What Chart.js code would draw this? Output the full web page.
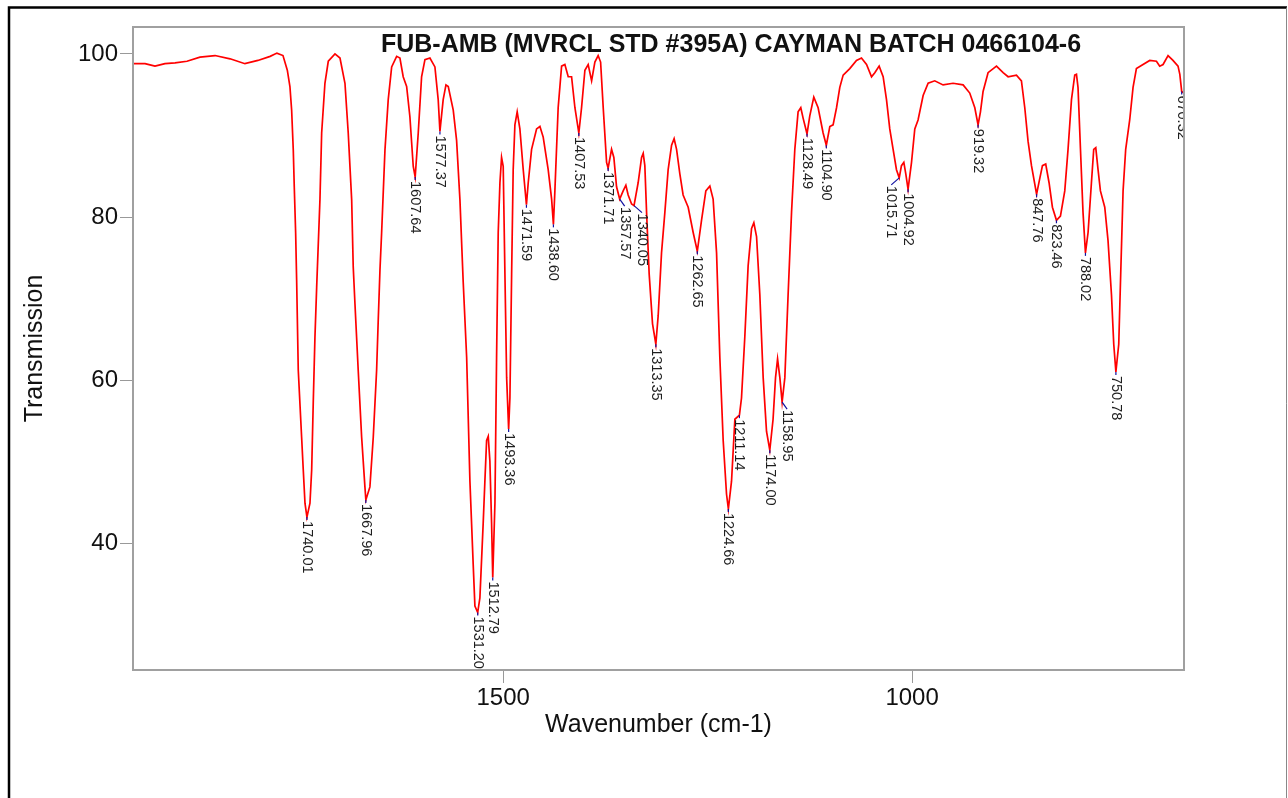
<!DOCTYPE html>
<html>
<head>
<meta charset="utf-8">
<script src="https://cdn.jsdelivr.net/npm/chart.js@4.4.1/dist/chart.umd.min.js"></script>
<style>
  body { margin: 0; background: #fff; }
  #wrap { width: 1288px; height: 798px; position: relative; }
</style>
</head>
<body>
<div id="wrap"><canvas id="myChart" width="1288" height="798"></canvas></div>
<script>
// IR spectrum, wavenumber (cm-1) vs % transmission
const wavenumbers = [
  1952.7, 1938, 1925.8, 1913.6, 1901.3, 1886.7, 1870.8, 1852.4, 1834, 1815.8,
  1800, 1785, 1776.7, 1769.3, 1764, 1760.8, 1758.7, 1756.7, 1755.5, 1753.8,
  1752.6, 1750.6, 1746.5, 1744.5, 1742.4, 1740.01, 1736.3, 1734.2, 1732.3, 1730.2,
  1728.1, 1724.1, 1722, 1718, 1713.9, 1705.7, 1699.6, 1693.5, 1689.5, 1685.3,
  1683.4, 1681.3, 1677.3, 1673.1, 1669.1, 1667.96, 1663, 1658.9, 1654.8, 1652.8,
  1650.7, 1648.7, 1644.6, 1640.6, 1636.4, 1630.3, 1626.3, 1622.3, 1618.1, 1614.1,
  1610, 1607.64, 1603.9, 1599.8, 1595.7, 1589.6, 1583.5, 1579.5, 1577.37, 1573.4,
  1570, 1567.2, 1561.1, 1557, 1552.9, 1550.5, 1548.9, 1544.7, 1540.7, 1536.7,
  1534.6, 1531.20, 1528.5, 1524.5, 1522.4, 1520.3, 1518.3, 1516.3, 1514.2, 1512.79,
  1510.1, 1508.1, 1506.1, 1504, 1502, 1500, 1497.9, 1495.8, 1493.36, 1491.8,
  1489.7, 1487.8, 1485.7, 1482.9, 1479.6, 1475.5, 1471.59, 1469.4, 1465.3, 1459.2,
  1455.1, 1451.1, 1445, 1440.8, 1438.60, 1436.8, 1432.8, 1428.6, 1424.6, 1420.5,
  1416.4, 1412.3, 1407.53, 1404.2, 1400.1, 1396.1, 1391.9, 1387.9, 1383.9, 1380.9,
  1377.7, 1373.6, 1371.71, 1367.5, 1364.7, 1361.4, 1357.57, 1353.3, 1350, 1347.2,
  1343, 1340.05, 1335, 1330.8, 1328.8, 1326.8, 1324.7, 1321.5, 1317.4, 1313.35,
  1310.5, 1306.4, 1302.3, 1298.3, 1294.1, 1291, 1288, 1284, 1280, 1273.8,
  1267.7, 1262.65, 1257.5, 1252.2, 1247.3, 1243.3, 1239.1, 1235.1, 1231, 1226.9,
  1224.66, 1220.8, 1216.7, 1211.14, 1208.6, 1204.5, 1200.5, 1196.3, 1193.5, 1190.2,
  1186.2, 1182.1, 1178, 1174.00, 1170, 1167, 1164.5, 1161.7, 1158.95, 1155.6,
  1151.6, 1147.4, 1143.4, 1139.4, 1136.1, 1133.2, 1128.49, 1125.1, 1120.2, 1114.9,
  1108.8, 1104.90, 1100.6, 1096.6, 1092.4, 1088.4, 1084.3, 1076.2, 1068, 1061.9,
  1055.7, 1049.6, 1045.6, 1040.3, 1035.4, 1031.3, 1027.3, 1023.2, 1019.1, 1015.71,
  1013, 1010.1, 1007.7, 1004.92, 1000.7, 996.7, 992.7, 986.5, 980.4, 972.3,
  962.1, 949.9, 937.6, 929.5, 923.3, 919.32, 916.4, 913.2, 907.1, 896.8,
  888.7, 882.6, 872.4, 866.3, 862.2, 858.2, 854, 847.76, 843.9, 840.6,
  836.6, 832.5, 828.4, 823.46, 818.6, 813.3, 809.3, 805.1, 801.1, 799,
  797.1, 794.1, 791, 788.02, 784.8, 780.7, 777.9, 775.4, 772.6, 769.7,
  764.4, 760.4, 756.2, 753.4, 750.78, 747.3, 744.9, 742, 738.8, 733.9,
  729.8, 725.7, 717.6, 709.4, 701.2, 697.2, 693.1, 687, 681, 674.8,
  672.6, 670.32, 667.6
];
const transmission = [
  98.8, 98.8, 98.5, 98.8, 98.9, 99.1, 99.6, 99.8, 99.4, 98.8,
  99.2, 99.7, 100.1, 99.8, 98, 96, 93.1, 88.2, 83.7, 78,
  72.3, 61.2, 53, 49, 44.9, 43.2, 44.9, 49, 57.2, 65.3,
  71.4, 82.1, 90.3, 96.4, 99.1, 100, 99.5, 96.4, 90.3, 82.1,
  73.9, 69.4, 61.2, 53, 46.9, 45.3, 46.9, 53, 61.2, 67.4,
  73.5, 78, 88.2, 94.4, 98.4, 99.7, 99.5, 97.2, 96, 92.3,
  86.2, 84.9, 90.3, 97.2, 99.3, 99.5, 98.4, 94.4, 90.5, 94.4,
  96.2, 96, 93.1, 89.4, 82.1, 76, 72, 62.8, 47.6, 37.4,
  32.3, 31.5, 33.3, 42.4, 47.6, 52.6, 53.1, 50.1, 42.4, 35.8,
  45, 62.8, 78.1, 84.2, 87.3, 86.2, 73, 60.3, 54, 57.8,
  73, 85.8, 91.3, 92.9, 90.8, 85.8, 81.5, 84.2, 88.3, 90.8,
  91.1, 89.8, 85.8, 82.2, 79.1, 83.2, 93.4, 98.5, 98.7, 97.2,
  97.2, 93.4, 90.3, 93.4, 98, 98.7, 96.7, 99, 99.8, 99,
  93.4, 86.7, 86, 88.3, 87.3, 83.7, 82.2, 83.2, 83.9, 82.7,
  81.6, 81.4, 84.2, 87.3, 87.8, 86.3, 80.6, 73, 66.9, 64.4,
  67.9, 75.6, 80.6, 85.8, 88.8, 89.6, 88.3, 85.3, 82.7, 81.2,
  78.1, 75.8, 79.6, 83.2, 83.8, 82.2, 75.6, 62.8, 52.6, 46,
  44.2, 47.6, 55.2, 55.7, 57.8, 65.4, 74, 78.6, 79.3, 77.6,
  70.5, 60.3, 53.7, 51.4, 55.2, 60.3, 62.6, 60.3, 57.3, 60.3,
  70.5, 80.6, 88.3, 92.9, 93.4, 92.1, 90.2, 92.4, 94.7, 93.4,
  90.3, 88.8, 91.1, 91.3, 93.4, 95.9, 97.4, 98.2, 99.2, 99.5,
  98.7, 97.2, 97.7, 98.5, 97.2, 94.4, 90.8, 88.3, 85.8, 84.8,
  86.3, 86.7, 85.3, 83.4, 86.7, 90.8, 91.9, 94.9, 96.4, 96.7,
  96.2, 96.4, 96.2, 95.2, 93.4, 91.3, 92.9, 95.4, 97.7, 98.5,
  97.7, 97.2, 97.4, 96.7, 93.4, 89.3, 86.3, 82.8, 84.7, 86.3,
  86.5, 84.2, 81.2, 79.6, 80.1, 83.2, 88.3, 94.4, 97.4, 97.5,
  95.9, 88.3, 80.6, 75.6, 78.1, 84.2, 88.3, 88.5, 85.8, 83.2,
  81.2, 77.1, 70.5, 64.4, 61, 64.4, 73, 83.2, 88.3, 91.9,
  95.9, 98.2, 98.7, 99.2, 99.1, 98.5, 98.7, 99.8, 99.2, 98.5,
  97.5, 95.4, 95.2
];

// picked peaks (cm-1)
const peaks = [
  1740.01, 1667.96, 1607.64, 1577.37, 1531.20, 1512.79, 1493.36, 1471.59, 1438.60, 1407.53,
  1371.71, 1357.57, 1340.05, 1313.35, 1262.65, 1224.66, 1211.14, 1174.00, 1158.95, 1128.49,
  1104.90, 1015.71, 1004.92, 919.32, 847.76, 823.46, 788.02, 750.78, 670.32
];

const xTicks = [1500, 1000];
const yTicks = [40, 60, 80, 100];
const chartTitle = 'FUB-AMB (MVRCL STD #395A) CAYMAN BATCH 0466104-6';

const points = wavenumbers.map((w, i) => ({ x: w, y: transmission[i] }));

// labels that got nudged sideways so they don't collide
const labelShift = { '1357.57': 5, '1340.05': 8, '1015.71': -8, '1158.95': 5 };

const decor = {
  id: 'decor',
  beforeDraw(chart) {
    const c = chart.ctx;
    c.save();
    c.fillStyle = '#fff';
    c.fillRect(0, 0, chart.width, chart.height);
    // page frame
    c.strokeStyle = '#000';
    c.lineWidth = 2.5;
    c.beginPath();
    c.moveTo(9, 800);
    c.lineTo(9, 7.5);
    c.lineTo(1287, 7.5);
    c.stroke();
    c.strokeStyle = '#888';
    c.lineWidth = 1;
    c.beginPath();
    c.moveTo(1286.5, 7.5);
    c.lineTo(1286.5, 800);
    c.stroke();
    c.restore();
  },
  afterDatasetsDraw(chart) {
    const c = chart.ctx;
    const a = chart.chartArea;
    const xs = chart.scales.x, ys = chart.scales.y;
    c.save();
    // labels get cut at the left/right edges of the plot only
    c.beginPath();
    c.rect(a.left, a.top, a.right - a.left, chart.height - a.top);
    c.clip();
    c.font = '14.5px "Liberation Sans", Arial, sans-serif';
    peaks.forEach(p => {
      const i = wavenumbers.indexOf(p);
      const px = xs.getPixelForValue(p);
      const py = ys.getPixelForValue(transmission[i]);
      const txt = p.toFixed(2);
      const dx = labelShift[txt] || 0;
      const lead = dx ? 7 : 3;
      c.strokeStyle = '#1010a0';
      c.lineWidth = 1.2;
      c.beginPath();
      c.moveTo(px, py);
      c.lineTo(px + dx, py + lead);
      c.stroke();
      c.save();
      c.translate(px + dx, py + lead + 1);
      c.rotate(Math.PI / 2);
      c.fillStyle = '#1e1e1e';
      c.textAlign = 'left';
      c.textBaseline = 'middle';
      c.fillText(txt, 0, 0);
      c.restore();
    });
    c.restore();

    c.save();
    c.fillStyle = '#111';
    c.font = 'bold 25px "Liberation Sans", Arial, sans-serif';
    c.textAlign = 'center';
    c.textBaseline = 'alphabetic';
    c.fillText(chartTitle, 731, 51.5);
    // plot box
    c.strokeStyle = '#a0a0a0';
    c.lineWidth = 2;
    c.strokeRect(a.left, a.top, a.right - a.left, a.bottom - a.top);
    c.restore();
  }
};

const ctx = document.getElementById('myChart');
new Chart(ctx, {
  type: 'line',
  data: {
    datasets: [{
      data: points,
      borderColor: 'rgb(255, 0, 0)',
      borderWidth: 1.7,
      pointRadius: 0,
      fill: false,
      tension: 0
    }]
  },
  options: {
    responsive: false,
    animation: false,
    events: [],
    layout: { padding: { left: 0, top: 27, right: 104, bottom: 0 } },
    plugins: { legend: { display: false }, tooltip: { enabled: false }, title: { display: false } },
    scales: {
      x: {
        type: 'linear',
        reverse: true,
        min: 667.5,
        max: 1952.7,
        afterFit: s => { s.height = 128; },
        afterBuildTicks: s => { s.ticks = xTicks.map(v => ({ value: v })); },
        border: { display: false },
        grid: { drawOnChartArea: false, tickLength: 13, color: '#999', lineWidth: 1 },
        ticks: {
          color: '#111',
          padding: 1,
          maxRotation: 0,
          callback: v => String(v),
          font: { family: '"Liberation Sans", Arial, sans-serif', size: 24 }
        },
        title: {
          display: true,
          text: 'Wavenumber (cm-1)',
          color: '#111',
          padding: { top: 0, bottom: 58 },
          font: { family: '"Liberation Sans", Arial, sans-serif', size: 25 }
        }
      },
      y: {
        min: 24.45,
        max: 103.3,
        afterFit: s => { s.width = 133; },
        afterBuildTicks: s => { s.ticks = yTicks.map(v => ({ value: v })); },
        border: { display: false },
        grid: { drawOnChartArea: false, tickLength: 13, color: '#999', lineWidth: 1 },
        ticks: {
          color: '#111',
          padding: 2,
          callback: v => String(v),
          font: { family: '"Liberation Sans", Arial, sans-serif', size: 24 }
        },
        title: {
          display: true,
          text: 'Transmission',
          color: '#111',
          padding: { top: 20, bottom: 0 },
          font: { family: '"Liberation Sans", Arial, sans-serif', size: 25 }
        }
      }
    }
  },
  plugins: [decor]
});
</script>
</body>
</html>
